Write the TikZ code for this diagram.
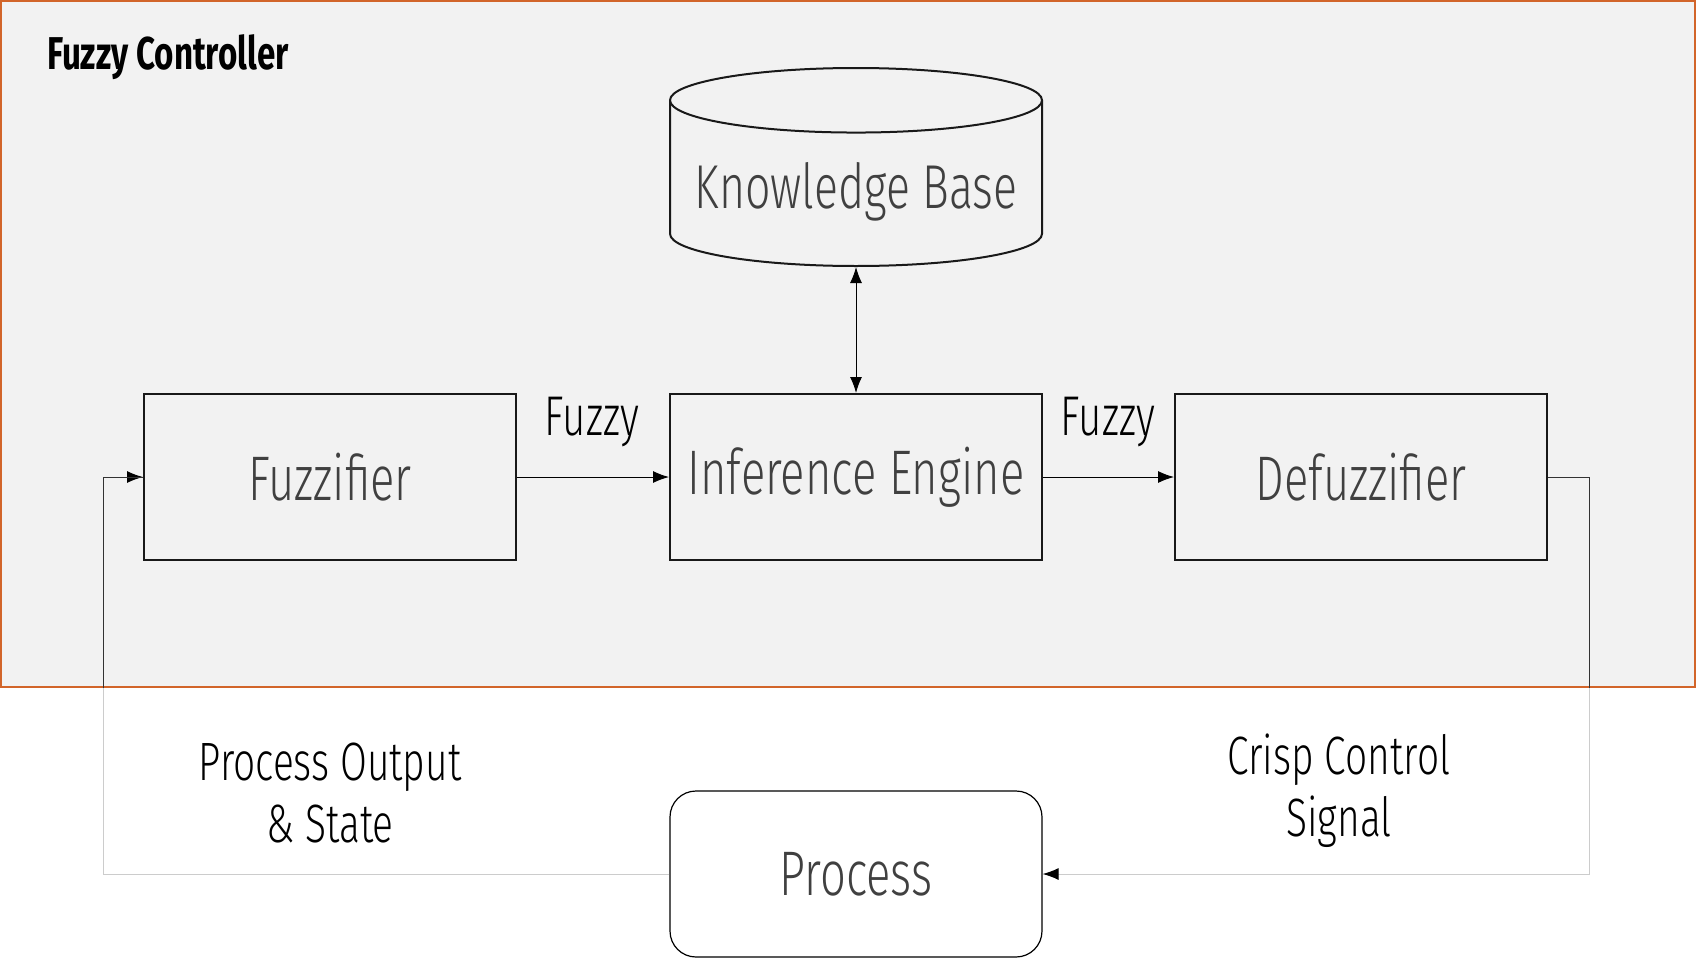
\documentclass[tikz,border=0pt]{standalone}
\usepackage{fontspec}
\setmainfont{Fira Sans Light}[FakeStretch=0.72, BoldFont=Fira Sans Bold, BoldFeatures={FakeStretch=0.72}]
\usetikzlibrary{shapes.geometric,arrows.meta}
\definecolor{panelfill}{HTML}{F2F2F2}
\definecolor{panelline}{HTML}{D2652A}
\definecolor{blocktext}{HTML}{404040}
\tikzset{
  block/.style={draw=black!90, line width=1pt, minimum width=186pt, minimum height=83pt,
    inner sep=0pt, text=blocktext, font=\fontsize{31.5}{36}\selectfont},
  lbl/.style={align=center, font=\fontsize{27}{33}\selectfont},
  flow/.style={->, line width=0.5pt},
  back/.style={-{Latex[length=8pt,width=6pt,color=black]}, line width=0.5pt, draw=black!20},
}
\begin{document}
\begin{tikzpicture}[x=0.5pt, y=-0.5pt, >={Latex[length=8pt,width=6pt]}]
\useasboundingbox (0,0) rectangle (1696,958);
% controller panel
\draw[fill=panelfill, draw=panelline, line width=1pt] (1,1) rectangle (1695,687);
\node[anchor=west, font=\bfseries\fontsize{23}{26}\selectfont] (title) at (40,57) {Fuzzy Controller};

\node[block, cylinder, shape border rotate=90, aspect=0.2, minimum width=186pt, minimum height=99pt, anchor=south, font=\fontsize{31}{36}\selectfont] (kb) at (856,267) {\raisebox{-4pt}[\height][\depth]{Knowledge Base}};
\node[block] (engine) at (856,477) {Inference Engine};
\node[block] (fuzz) at (330,477) {Fuzzifier};
\node[block] (defuzz) at (1361,477) {Defuzzifier};
\node[block, draw=black, line width=0.6pt, rounded corners=13pt] (process) at (856,874) {Process};

\coordinate (lcorner) at (103,874);
\coordinate (ltop) at (103,477);
\coordinate (rtop) at (1589,477);
\coordinate (rcorner) at (1589,874);

\draw[flow, <->] (kb.south) -- (engine.north);
\draw[flow] (fuzz.east) -- (engine.west);
\draw[flow] (engine.east) -- (defuzz.west);
\node[lbl, font=\fontsize{28}{33}\selectfont] (fuzzyin) at (592,422) {Fuzzy};
\node[lbl, font=\fontsize{28}{33}\selectfont] (fuzzyout) at (1108,422) {Fuzzy};

% feedback loop
\draw[back] (process.west) -- (lcorner) -- (ltop) -- (fuzz.west);
\draw[back] (defuzz.east) -- (rtop) -- (rcorner) -- (process.east);
\begin{scope}
\clip (0,0) rectangle (1696,687);
\draw[line width=0.5pt, draw=black!80] (lcorner) -- (ltop) -- (fuzz.west);
\draw[line width=0.5pt, draw=black!80] (defuzz.east) -- (rtop) -- (rcorner);
\end{scope}
\node[lbl] (outlbl) at (330,793) {Process Output\\[-2pt]\& State};
\node[lbl] (ctllbl) at (1339,791) {Crisp Control\\[-2pt]Signal};
\end{tikzpicture}
\end{document}
